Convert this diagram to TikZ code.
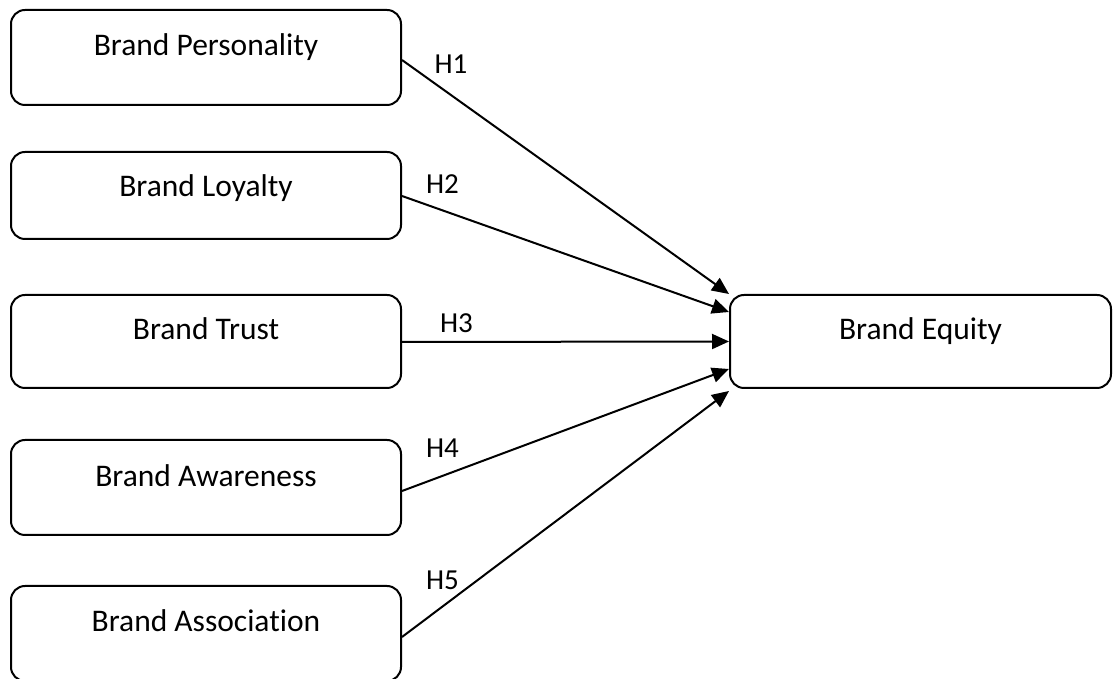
\documentclass[tikz,border=0pt]{standalone}
\usepackage{fontspec}
\setmainfont{Carlito}[Ligatures=NoCommon]
\usetikzlibrary{arrows.meta}

\tikzset{
  box/.style={draw, line width=2pt, rounded corners=14pt, minimum width=390pt,
              inner sep=0pt, fill=white},
  boxtext/.style={anchor=base, inner sep=0pt, font=\fontsize{31.5}{37}\selectfont},
  hyp/.style={anchor=base, inner sep=0pt, font=\fontsize{29}{35}\selectfont},
  link/.style={line width=2pt, -{Triangle[length=17pt,width=15pt]}}
}

\begin{document}
\begin{tikzpicture}[x=1pt,y=1pt]
\useasboundingbox (0,0) rectangle (1113,679);

% constructs on the left
\node[box, minimum height=95pt] (bp)  at (206,621.5) {};
\node[box, minimum height=87pt] (bl)  at (206,483.5) {};
\node[box, minimum height=93pt] (bt)  at (206,337.5) {};
\node[box, minimum height=95pt] (ba)  at (206,191.5) {};
\node[box, minimum height=95pt] (bas) at (206,45.5)  {};

% outcome on the right
\node[box, minimum width=381pt, minimum height=93pt] (eq) at (920.5,337.5) {};

% box captions
\node[boxtext] (tbp)  at (206,623.5) {Brand Personality};
\node[boxtext] (tbl)  at (206,482)   {Brand Loyalty};
\node[boxtext] (tbt)  at (206,339)   {Brand Trust};
\node[boxtext] (tba)  at (206,192)   {Brand Awareness};
\node[boxtext] (tbas) at (206,47)    {Brand Association};
\node[boxtext] (teq)  at (920.5,339) {Brand Equity};

% hypothesised paths
\draw[link] ([yshift=-2.5pt]bp.east)  -- (eq.north west);
\draw[link] ([yshift=-0.5pt]bl.east)  -- ([yshift=-18pt]eq.north west);
\draw[link] ([yshift=-0.5pt]bt.east)  -- (eq.west);
\draw[link] ([yshift=-3.5pt]ba.east)  -- ([yshift=20pt]eq.south west);
\draw[link] ([yshift=-3.5pt]bas.east) -- ([yshift=-2pt]eq.south west);

% path labels
\node[hyp] (h1) at (451,605)   {H1};
\node[hyp] (h2) at (442.5,485) {H2};
\node[hyp] (h3) at (456.5,346) {H3};
\node[hyp] (h4) at (442.5,221) {H4};
\node[hyp] (h5) at (442.5,89)  {H5};
\end{tikzpicture}
\end{document}
